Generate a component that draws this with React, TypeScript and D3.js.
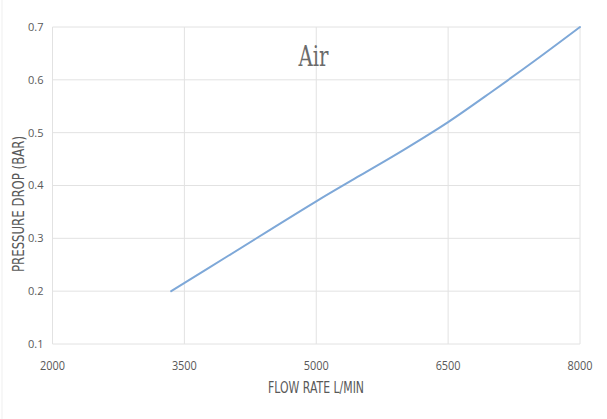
import React from 'react'
import * as d3 from 'd3'

// Flow rate (L/min) vs pressure drop (bar)
const flowRates = [3350, 4000, 5000, 5500, 6000, 6500, 7000, 7500, 8000]
const pressureDrops = [0.2, 0.267, 0.37, 0.419, 0.468, 0.52, 0.578, 0.638, 0.7]
const xTicks = [2000, 3500, 5000, 6500, 8000]
const yTicks = [0.1, 0.2, 0.3, 0.4, 0.5, 0.6, 0.7]

const title = 'Air'
const xLabel = 'FLOW RATE L/MIN'
const yLabel = 'PRESSURE DROP (BAR)'

const width = 607
const height = 419
const margin = { top: 27, right: 27, bottom: 75, left: 52.5 }

const condensed = '"DejaVu Sans", sans-serif'

const App: React.FC = () => {
  const x = d3
    .scaleLinear()
    .domain([2000, 8000])
    .range([margin.left, width - margin.right])
  const y = d3
    .scaleLinear()
    .domain([0.1, 0.7])
    .range([height - margin.bottom, margin.top])

  const points = flowRates.map((f, i) => [f, pressureDrops[i]] as [number, number])
  const line = d3
    .line<[number, number]>()
    .x((d) => x(d[0]))
    .y((d) => y(d[1]))
    .curve(d3.curveCatmullRom.alpha(0.5))

  const gridColor = '#e2e2e2'
  const textColor = '#595959'

  return (
    <svg
      width={width}
      height={height}
      style={{ position: 'absolute', left: 0, top: 0, background: '#fff' }}
    >
      <line x1={2} x2={2} y1={0} y2={height} stroke="#efefef" />

      {/* grid */}
      {yTicks.map((t) => (
        <line
          key={`gy${t}`}
          x1={x.range()[0]}
          x2={x.range()[1]}
          y1={y(t)}
          y2={y(t)}
          stroke={gridColor}
          strokeWidth={1}
        />
      ))}
      {xTicks.map((t) => (
        <line
          key={`gx${t}`}
          x1={x(t)}
          x2={x(t)}
          y1={y.range()[0]}
          y2={y.range()[1]}
          stroke={gridColor}
          strokeWidth={1}
        />
      ))}

      {/* y tick labels */}
      {yTicks.map((t) => (
        <text
          key={`ty${t}`}
          x={x.range()[0] - 9}
          y={y(t)}
          dy="0.35em"
          textAnchor="end"
          fontFamily='"Open Sans", sans-serif'
          fontSize={11}
          fill={textColor}
        >
          {d3.format('.1f')(t)}
        </text>
      ))}

      {/* x tick labels */}
      {xTicks.map((t) => (
        <text
          key={`tx${t}`}
          x={x(t)}
          y={y.range()[0] + 22}
          dy="0.35em"
          textAnchor="middle"
          fontFamily='"Open Sans", sans-serif'
          fontSize={12}
          fill={textColor}
          textLength={25}
          lengthAdjust="spacingAndGlyphs"
        >
          {t}
        </text>
      ))}

      <path
        d={line(points) ?? ''}
        fill="none"
        stroke="#7ea8d8"
        strokeWidth={2}
        strokeLinecap="round"
      />

      <text
        x={313.5}
        y={66}
        textAnchor="middle"
        fontFamily='"DejaVu Serif Condensed", "DejaVu Serif", serif'
        fontSize={28}
        fill="#6b6b6b"
        textLength={30}
        lengthAdjust="spacingAndGlyphs"
      >
        {title}
      </text>

      <text
        x={316}
        y={393}
        textAnchor="middle"
        fontFamily={condensed}
        fontSize={16}
        fill={textColor}
        textLength={96}
        lengthAdjust="spacingAndGlyphs"
      >
        {xLabel}
      </text>

      <text
        transform="translate(24,204) rotate(-90)"
        textAnchor="middle"
        fontFamily={condensed}
        fontSize={15.5}
        fill={textColor}
        textLength={136}
        lengthAdjust="spacingAndGlyphs"
      >
        {yLabel}
      </text>
    </svg>
  )
}

export default App
